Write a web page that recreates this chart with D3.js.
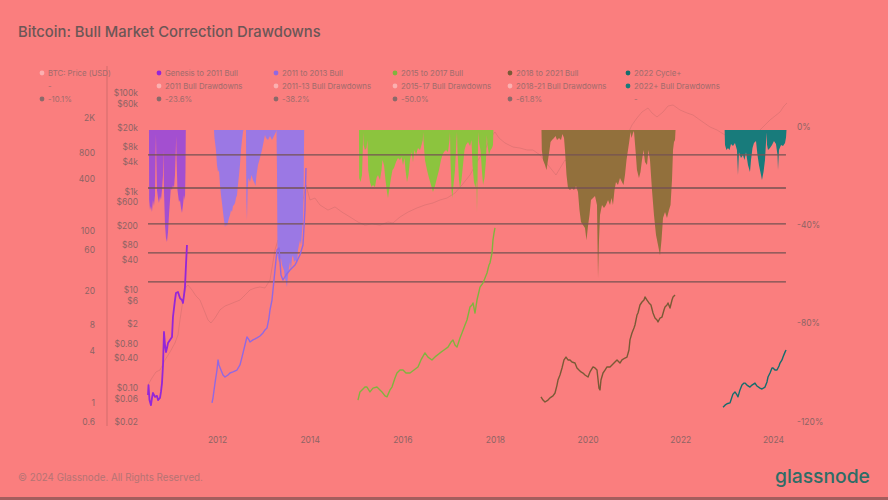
<!DOCTYPE html>
<html><head><meta charset="utf-8">
<script src="https://cdn.jsdelivr.net/npm/d3@7"></script>
<style>
html,body{margin:0;padding:0;background:#fa7e7e;}
svg{display:block;font-family:Inter,"Open Sans",sans-serif;}
</style></head><body>
<svg id="chart" width="888" height="500"></svg>
<script>
// ---------------- DATA ----------------
const title = "Bitcoin: Bull Market Correction Drawdowns";
const yearTicks = [2012, 2014, 2016, 2018, 2020, 2022, 2024];
const leftTicks = [0.6, 1, 4, 8, 20, 60, 100, 400, 800, 2000];
const leftTickLabels = ["0.6", "1", "4", "8", "20", "60", "100", "400", "800", "2K"];
const priceTicks = [0.02, 0.06, 0.1, 0.4, 0.8, 2, 6, 10, 40, 80, 200, 600, 1000, 4000, 8000, 20000, 60000, 100000];
const priceTickLabels = ["$0.02","$0.06","$0.10","$0.40","$0.80","$2","$6","$10","$40","$80","$200","$600","$1k","$4k","$8k","$20k","$60k","$100k"];
const ddTicks = [0, -40, -80, -120];
const levels = [-10.1, -23.6, -38.2, -50.0, -61.8];

// BTC price (left axis), [decimal year, value]
const btcPrice = [[2010.511,1.62],[2010.597,1.95],[2010.683,2.29],[2010.770,2.41],[2010.878,3.15],[2010.986,3.90],[2011.093,4.96],[2011.158,6.14],[2011.201,9.16],[2011.266,15.6],[2011.331,22.1],[2011.374,23.3],[2011.460,20.4],[2011.547,17.4],[2011.633,15.6],[2011.719,12.0],[2011.806,9.16],[2011.870,8.45],[2011.957,9.66],[2012.065,12.0],[2012.173,13.3],[2012.281,14.0],[2012.389,14.8],[2012.496,15.6],[2012.604,17.8],[2012.712,20.4],[2012.820,21.5],[2012.928,22.1],[2013.036,21.5],[2013.144,26.6],[2013.252,59.3],[2013.317,77.4],[2013.403,51.9],[2013.576,59.3],[2013.748,88.4],[2013.856,225],[2013.921,336],[2014.007,225],[2014.115,237],[2014.223,197],[2014.396,172],[2014.547,187],[2014.698,163],[2014.871,143],[2015.043,125],[2015.194,115],[2015.346,119],[2015.518,115],[2015.691,125],[2015.799,122],[2015.950,143],[2016.123,163],[2016.317,182],[2016.489,197],[2016.662,208],[2016.813,225],[2016.964,237],[2017.137,271],[2017.288,336],[2017.461,439],[2017.634,654],[2017.785,854],[2017.892,1177],[2018.000,1381],[2018.087,1177],[2018.216,1030],[2018.389,925],[2018.540,901],[2018.691,854],[2018.820,854],[2018.972,748],[2019.144,573],[2019.317,439],[2019.511,654],[2019.727,529],[2019.943,573],[2020.094,620],[2020.245,384],[2020.375,654],[2020.590,810],[2020.806,1116],[2020.957,1665],[2021.065,2006],[2021.173,2355],[2021.303,2620],[2021.389,2293],[2021.497,2061],[2021.627,2355],[2021.735,2764],[2021.843,2839],[2021.994,2484],[2022.145,2293],[2022.274,2174],[2022.425,1902],[2022.641,1579],[2022.792,1457],[2022.965,1275],[2023.180,1116],[2023.396,1177],[2023.612,1275],[2023.763,1537],[2023.936,1902],[2024.044,2117],[2024.152,2355],[2024.238,2764],[2024.303,2994]];

// Cycle prices ($ axis), [decimal year, value]
const genesisTo2011 = [[2010.511,0.071],[2010.522,0.113],[2010.543,0.056],[2010.575,0.044],[2010.597,0.062],[2010.618,0.078],[2010.662,0.065],[2010.705,0.068],[2010.727,0.056],[2010.770,0.062],[2010.791,0.082],[2010.813,0.124],[2010.835,0.29],[2010.856,1.36],[2010.878,0.74],[2010.899,0.53],[2010.921,0.64],[2010.943,0.81],[2010.986,0.94],[2011.029,1.08],[2011.050,2.75],[2011.093,6.1],[2011.115,8.48],[2011.158,8.9],[2011.201,6.7],[2011.245,6.1],[2011.266,5.31],[2011.288,7.7],[2011.309,11.2],[2011.331,31.5],[2011.352,80.5]];
const bull2011to2013 = [[2011.892,0.049],[2011.914,0.062],[2011.957,0.124],[2012.000,0.229],[2012.022,0.367],[2012.043,0.29],[2012.086,0.229],[2012.130,0.181],[2012.173,0.165],[2012.238,0.181],[2012.281,0.199],[2012.345,0.209],[2012.432,0.229],[2012.496,0.29],[2012.540,0.42],[2012.604,0.74],[2012.647,1.08],[2012.691,0.94],[2012.712,0.85],[2012.777,0.94],[2012.863,1.03],[2012.928,1.13],[2012.993,1.30],[2013.036,1.50],[2013.079,1.64],[2013.122,2.62],[2013.144,3.82],[2013.187,6.1],[2013.209,9.8],[2013.252,24.9],[2013.295,63.7],[2013.338,70],[2013.381,19.7],[2013.424,15.6],[2013.489,19.7],[2013.576,24.9],[2013.684,31.5],[2013.791,50.4],[2013.856,80.5],[2013.899,416],[2013.921,2980]];
const bull2015to2017 = [[2015.043,0.056],[2015.086,0.082],[2015.130,0.090],[2015.194,0.103],[2015.237,0.103],[2015.302,0.082],[2015.367,0.098],[2015.453,0.103],[2015.518,0.090],[2015.561,0.082],[2015.626,0.068],[2015.669,0.065],[2015.734,0.090],[2015.777,0.103],[2015.842,0.157],[2015.885,0.199],[2015.950,0.229],[2016.015,0.229],[2016.080,0.199],[2016.166,0.199],[2016.252,0.229],[2016.338,0.264],[2016.403,0.367],[2016.489,0.51],[2016.554,0.42],[2016.640,0.367],[2016.727,0.44],[2016.813,0.51],[2016.900,0.585],[2016.986,0.67],[2017.051,0.85],[2017.094,0.94],[2017.137,0.74],[2017.180,0.67],[2017.245,1.03],[2017.288,1.30],[2017.353,1.89],[2017.396,2.39],[2017.461,4.40],[2017.504,4.83],[2017.526,5.31],[2017.569,3.32],[2017.612,6.1],[2017.677,11.2],[2017.742,13.6],[2017.785,17.1],[2017.828,21.7],[2017.871,31.5],[2017.892,34.6],[2017.936,55.3],[2017.957,102],[2017.979,141],[2018.000,179]];
const bull2018to2021 = [[2018.993,0.065],[2019.037,0.056],[2019.080,0.051],[2019.144,0.056],[2019.188,0.062],[2019.252,0.068],[2019.296,0.078],[2019.339,0.113],[2019.360,0.143],[2019.403,0.181],[2019.447,0.252],[2019.490,0.367],[2019.533,0.42],[2019.576,0.367],[2019.619,0.367],[2019.662,0.333],[2019.727,0.318],[2019.770,0.252],[2019.813,0.229],[2019.857,0.209],[2019.900,0.199],[2019.943,0.181],[2020.008,0.165],[2020.051,0.209],[2020.116,0.264],[2020.159,0.252],[2020.202,0.229],[2020.245,0.098],[2020.267,0.090],[2020.288,0.143],[2020.332,0.199],[2020.375,0.229],[2020.418,0.264],[2020.483,0.264],[2020.526,0.29],[2020.590,0.333],[2020.634,0.367],[2020.698,0.318],[2020.741,0.367],[2020.806,0.402],[2020.849,0.42],[2020.892,0.585],[2020.914,0.94],[2020.957,1.30],[2021.000,1.64],[2021.022,1.89],[2021.065,3.02],[2021.087,3.32],[2021.130,4.83],[2021.173,5.56],[2021.216,6.1],[2021.238,7.03],[2021.281,6.1],[2021.324,5.31],[2021.367,4.83],[2021.411,3.32],[2021.454,2.62],[2021.497,2.39],[2021.519,2.18],[2021.562,2.62],[2021.605,2.75],[2021.648,3.82],[2021.670,4.40],[2021.713,4.83],[2021.735,5.31],[2021.778,4.20],[2021.821,6.1],[2021.843,7.03],[2021.886,7.7]];
const cycle2022 = [[2022.922,0.040],[2022.965,0.044],[2023.008,0.047],[2023.073,0.049],[2023.094,0.056],[2023.116,0.065],[2023.137,0.074],[2023.180,0.082],[2023.224,0.071],[2023.245,0.065],[2023.288,0.090],[2023.331,0.113],[2023.375,0.124],[2023.396,0.124],[2023.439,0.113],[2023.504,0.103],[2023.547,0.113],[2023.612,0.124],[2023.655,0.108],[2023.720,0.098],[2023.763,0.094],[2023.828,0.103],[2023.871,0.131],[2023.893,0.165],[2023.936,0.199],[2023.979,0.252],[2024.001,0.252],[2024.044,0.229],[2024.087,0.229],[2024.130,0.277],[2024.152,0.318],[2024.195,0.367],[2024.217,0.42],[2024.260,0.53],[2024.282,0.585]];

// Drawdowns (%), [decimal year, drawdown]
const dd2011 = [[2010.532,0],[2010.536,-28.5],[2010.554,-32.5],[2010.575,-30.9],[2010.597,-33.4],[2010.618,-28.5],[2010.640,-30.9],[2010.662,-26.4],[2010.675,-8.1],[2010.683,-1.6],[2010.692,-12.2],[2010.705,-24.4],[2010.727,-27.7],[2010.748,-29.7],[2010.770,-26.8],[2010.791,-28.5],[2010.813,-24.4],[2010.835,-18.3],[2010.845,-8.1],[2010.856,-24.4],[2010.878,-38.6],[2010.899,-43.9],[2010.921,-45.6],[2010.943,-41.5],[2010.964,-34.6],[2010.986,-28.5],[2011.003,-23.6],[2011.029,-24.4],[2011.050,-22.4],[2011.072,-23.6],[2011.093,-18.3],[2011.111,-8.1],[2011.119,-2.4],[2011.128,-12.2],[2011.147,-24.4],[2011.180,-29.3],[2011.201,-28.5],[2011.223,-31.7],[2011.245,-33.8],[2011.266,-30.5],[2011.288,-26.4],[2011.309,-28.5],[2011.320,-16.3],[2011.327,0]];
const dd2011to13 = [[2011.935,0],[2011.946,-3.3],[2011.978,-8.1],[2012.000,-14.2],[2012.022,-17.1],[2012.043,-16.3],[2012.065,-22.4],[2012.086,-26.4],[2012.108,-29.7],[2012.130,-33.4],[2012.151,-36.6],[2012.173,-39.5],[2012.194,-38.2],[2012.216,-39.1],[2012.238,-37.4],[2012.259,-35.8],[2012.281,-34.6],[2012.302,-32.5],[2012.324,-33.4],[2012.345,-30.9],[2012.367,-30.5],[2012.389,-29.7],[2012.410,-27.7],[2012.432,-26.4],[2012.453,-22.4],[2012.475,-18.3],[2012.496,-14.2],[2012.518,-8.1],[2012.540,-4.1],[2012.561,-0.8],[2012.572,0],[2012.626,0],[2012.633,-28.5],[2012.647,-36.6],[2012.662,-24.4],[2012.680,-19.5],[2012.712,-21.2],[2012.745,-18.3],[2012.777,-20.3],[2012.809,-21.6],[2012.831,-22.8],[2012.853,-18.3],[2012.885,-14.2],[2012.928,-11.4],[2012.971,-8.1],[2013.014,-4.1],[2013.036,-2.0],[2013.058,-3.3],[2013.101,-4.1],[2013.144,-2.4],[2013.187,-4.1],[2013.230,-2.4],[2013.273,-0.8],[2013.284,0],[2013.295,-16.3],[2013.306,-50.9],[2013.338,-53.7],[2013.381,-52.1],[2013.403,-54.9],[2013.446,-57.0],[2013.468,-60.2],[2013.489,-61.8],[2013.511,-63.9],[2013.533,-59.0],[2013.554,-56.1],[2013.576,-53.7],[2013.597,-57.0],[2013.619,-52.1],[2013.641,-50.9],[2013.662,-53.7],[2013.705,-52.9],[2013.727,-54.9],[2013.748,-48.8],[2013.770,-46.8],[2013.791,-44.8],[2013.813,-46.8],[2013.834,-41.5],[2013.856,-36.6],[2013.871,-20.3],[2013.882,0]];
const dd2015to17 = [[2015.065,0],[2015.069,-19.5],[2015.097,-21.2],[2015.130,-18.3],[2015.147,-8.1],[2015.156,-0.8],[2015.164,-6.1],[2015.194,-8.1],[2015.227,-7.3],[2015.248,-4.1],[2015.264,-16.3],[2015.302,-21.2],[2015.335,-23.2],[2015.367,-22.4],[2015.410,-23.2],[2015.443,-19.5],[2015.475,-18.3],[2015.518,-20.3],[2015.551,-16.3],[2015.572,-12.2],[2015.605,-14.2],[2015.637,-20.3],[2015.669,-25.2],[2015.691,-27.7],[2015.723,-23.6],[2015.756,-19.5],[2015.788,-16.3],[2015.820,-15.5],[2015.864,-13.0],[2015.907,-11.4],[2015.950,-12.2],[2015.982,-11.0],[2016.015,-14.2],[2016.047,-11.4],[2016.069,-16.3],[2016.101,-21.2],[2016.133,-18.3],[2016.166,-12.2],[2016.198,-8.9],[2016.231,-13.0],[2016.263,-8.1],[2016.296,-10.2],[2016.338,-7.3],[2016.382,-8.1],[2016.414,-6.1],[2016.442,-4.1],[2016.451,-0.8],[2016.459,-4.9],[2016.489,-12.2],[2016.533,-16.3],[2016.576,-19.5],[2016.619,-22.4],[2016.662,-25.2],[2016.705,-22.8],[2016.748,-19.5],[2016.792,-16.3],[2016.835,-12.2],[2016.867,-10.2],[2016.900,-8.9],[2016.943,-8.1],[2016.986,-8.9],[2017.018,-4.1],[2017.029,-0.8],[2017.040,-12.2],[2017.062,-24.4],[2017.079,-27.7],[2017.105,-22.4],[2017.137,-16.3],[2017.169,-4.1],[2017.180,-0.8],[2017.191,-8.1],[2017.223,-20.3],[2017.245,-23.6],[2017.277,-20.3],[2017.310,-14.2],[2017.342,-8.1],[2017.374,-6.1],[2017.418,-4.9],[2017.461,-6.5],[2017.493,-4.1],[2017.515,-14.2],[2017.547,-21.2],[2017.580,-23.6],[2017.601,-20.3],[2017.612,-33.4],[2017.623,-20.3],[2017.634,-6.1],[2017.642,-0.8],[2017.655,-4.9],[2017.688,-8.1],[2017.720,-17.1],[2017.742,-22.4],[2017.774,-19.5],[2017.806,-12.2],[2017.824,-2.0],[2017.839,-6.1],[2017.871,-10.2],[2017.903,-8.1],[2017.936,-7.3],[2017.957,-6.1],[2017.966,0]];
const dd2018to21 = [[2019.004,0],[2019.011,-8.1],[2019.037,-12.2],[2019.080,-14.2],[2019.112,-16.3],[2019.144,-12.2],[2019.177,-8.1],[2019.199,-4.9],[2019.231,-4.1],[2019.274,-3.3],[2019.307,-2.4],[2019.339,-4.1],[2019.382,-3.3],[2019.425,-4.1],[2019.457,-1.6],[2019.490,-3.3],[2019.511,-8.1],[2019.544,-18.3],[2019.576,-23.6],[2019.619,-24.4],[2019.662,-23.6],[2019.706,-24.4],[2019.749,-22.8],[2019.792,-25.2],[2019.824,-32.5],[2019.857,-37.4],[2019.900,-38.6],[2019.943,-39.9],[2019.975,-44.8],[2020.008,-39.1],[2020.040,-34.6],[2020.072,-28.5],[2020.116,-27.7],[2020.159,-26.8],[2020.202,-30.5],[2020.224,-60.2],[2020.245,-44.8],[2020.267,-34.6],[2020.310,-30.5],[2020.353,-31.7],[2020.396,-30.5],[2020.440,-28.5],[2020.483,-30.5],[2020.515,-27.7],[2020.547,-30.5],[2020.580,-24.4],[2020.612,-21.2],[2020.655,-22.4],[2020.698,-19.5],[2020.741,-21.2],[2020.774,-22.4],[2020.806,-18.3],[2020.839,-12.2],[2020.871,-8.1],[2020.903,-4.1],[2020.925,-0.8],[2020.946,-3.3],[2020.979,-1.2],[2021.000,-0.4],[2021.033,-8.1],[2021.065,-16.3],[2021.108,-19.5],[2021.141,-17.1],[2021.173,-12.2],[2021.206,-8.1],[2021.238,-13.0],[2021.281,-14.2],[2021.314,-8.1],[2021.346,-12.2],[2021.389,-24.4],[2021.432,-34.6],[2021.476,-42.7],[2021.519,-46.8],[2021.562,-50.9],[2021.594,-44.8],[2021.627,-35.8],[2021.670,-33.4],[2021.713,-35.8],[2021.756,-32.5],[2021.789,-30.5],[2021.821,-20.3],[2021.843,-8.1],[2021.864,-4.9],[2021.886,-4.1],[2021.897,0]];
const dd2022 = [[2022.957,0],[2022.965,-6.1],[2022.997,-8.1],[2023.029,-7.3],[2023.062,-8.1],[2023.094,-5.7],[2023.137,-6.5],[2023.180,-5.3],[2023.223,-8.1],[2023.245,-18.3],[2023.266,-9.0],[2023.310,-11.4],[2023.353,-10.2],[2023.385,-12.2],[2023.418,-9.0],[2023.461,-14.2],[2023.504,-17.1],[2023.526,-12.2],[2023.558,-7.3],[2023.590,-5.3],[2023.634,-4.5],[2023.666,-10.2],[2023.698,-14.2],[2023.742,-18.3],[2023.763,-20.3],[2023.796,-17.1],[2023.828,-12.2],[2023.850,-5.0],[2023.861,-1.0],[2023.872,-6.0],[2023.893,-8.1],[2023.936,-7.3],[2023.979,-6.1],[2024.022,-4.5],[2024.065,-5.7],[2024.098,-10.2],[2024.109,-16.3],[2024.130,-8.1],[2024.174,-6.1],[2024.217,-6.5],[2024.260,-5.3],[2024.282,-3.0],[2024.292,0]];

// Legend labels (column by column)
const legendCols = [
  ["BTC: Price (USD)", "-", "-10.1%"],
  ["Genesis to 2011 Bull", "2011 Bull Drawdowns", "-23.6%"],
  ["2011 to 2013 Bull", "2011-13 Bull Drawdowns", "-38.2%"],
  ["2015 to 2017 Bull", "2015-17 Bull Drawdowns", "-50.0%"],
  ["2018 to 2021 Bull", "2018-21 Bull Drawdowns", "-61.8%"],
  ["2022 Cycle+", "2022+ Bull Drawdowns", "-"]
];
const footerText = "\u00A9 2024 Glassnode. All Rights Reserved.";
const logoText = "glassnode";

// ---------------- STYLE ----------------
const C = {
  bg: "#fa7e7e", title: "#6c5656", tick: "#8e6464", legend: "#a06c6c", footer: "#b57474",
  faint: "rgba(150,85,85,0.22)", level: "#745252", logo: "#2e6d66", levelDot: "#8a6a6a", faintDot: "#fbb0b0",
  cyc: ["#a34fd0", "#9b78e4", "#8cc43e", "#92703c", "#187b7b"],
  cycLine: ["#9426d8", "#9168e2", "#80b43e", "#7a5a36", "#146d6d"]
};

const svg = d3.select("#chart");
svg.append("rect").attr("width", 888).attr("height", 500).attr("fill", C.bg);
svg.append("rect").attr("x", 0).attr("y", 497).attr("width", 888).attr("height", 3).attr("fill", "#a45e5e");

function fitWidth(sel, target) {
  const w = sel.node().getComputedTextLength();
  const fs = parseFloat(sel.attr("font-size"));
  sel.attr("font-size", fs * target / w);
}

// Title
const t = svg.append("text").attr("x", 18).attr("y", 37).attr("font-size", 15).attr("font-weight", 500)
  .attr("fill", C.title).text(title);
fitWidth(t, 303);

// Scales
const x = d3.scaleLinear().domain([2010.511, 2024.303]).range([148, 787]);
const yLeft = d3.scaleLog().domain([1, 2000]).range([403, 403 - 86.3 * Math.log10(2000)]);
const yPrice = d3.scaleLog().domain([0.02, 100000]).range([422, 422 - 49.1 * Math.log10(5e6)]);
const yDD = d3.scaleLinear().domain([0, -120]).range([130, 425]);

// separator line
svg.append("line").attr("x1", 107).attr("x2", 107).attr("y1", 66).attr("y2", 426)
  .attr("stroke", "rgba(120,70,70,0.3)").attr("stroke-width", 1);

// faint BTC price
svg.append("path").datum(btcPrice)
  .attr("d", d3.line().x(d => x(d[0])).y(d => yLeft(d[1])))
  .attr("fill", "none").attr("stroke", C.faint).attr("stroke-width", 1);

// Drawdown areas
const ddSets = [dd2011, dd2011to13, dd2015to17, dd2018to21, dd2022];
const area = d3.area().x(d => x(d[0])).y0(yDD(0)).y1(d => yDD(d[1]));
ddSets.forEach((s, i) => {
  svg.append("path").datum(s).attr("d", area).attr("fill", C.cyc[i]);
});

// Level lines
svg.selectAll("line.level").data(levels).join("line").attr("class", "level")
  .attr("x1", x(2010.511)).attr("x2", x(2024.28))
  .attr("y1", d => yDD(d)).attr("y2", d => yDD(d))
  .attr("stroke", C.level).attr("stroke-width", 1.3);

// Cycle price lines
const priceSets = [genesisTo2011, bull2011to2013, bull2015to2017, bull2018to2021, cycle2022];
const pl = d3.line().x(d => x(d[0])).y(d => yPrice(d[1]));
priceSets.forEach((s, i) => {
  svg.append("path").datum(s).attr("d", pl).attr("fill", "none")
    .attr("stroke", C.cycLine[i]).attr("stroke-width", i === 0 ? 1.8 : 1.4).attr("stroke-linejoin", "round");
});

// Axes
function styleAxis(g) {
  g.select(".domain").remove();
  g.selectAll(".tick line").remove();
  g.selectAll(".tick text").attr("fill", C.tick).attr("font-size", 8.5)
    .attr("font-family", "Inter, 'Open Sans', sans-serif");
}
svg.append("g").attr("transform", "translate(95,0)")
  .call(d3.axisLeft(yLeft).tickValues(leftTicks).tickFormat((d, i) => leftTickLabels[i]).tickSize(0).tickPadding(0))
  .call(styleAxis);
svg.append("g").attr("transform", "translate(138,0)")
  .call(d3.axisLeft(yPrice).tickValues(priceTicks).tickFormat((d, i) => priceTickLabels[i]).tickSize(0).tickPadding(0))
  .call(styleAxis);
svg.append("g").attr("transform", "translate(797,-3.5)")
  .call(d3.axisRight(yDD).tickValues(ddTicks).tickFormat(d => d + "%").tickSize(0).tickPadding(0))
  .call(styleAxis);
svg.append("g").attr("transform", "translate(0,437)")
  .call(d3.axisBottom(x).tickValues(yearTicks).tickFormat(d3.format("d")).tickSize(0).tickPadding(0))
  .call(styleAxis);

// Legend
const colX = [42, 159, 276, 395, 510, 628];
const rowY = [73, 86, 99];
const dotColors = [
  [C.faintDot, null, C.levelDot],
  [C.cycLine[0], C.faintDot, C.levelDot],
  [C.cycLine[1], C.faintDot, C.levelDot],
  [C.cycLine[2], C.faintDot, C.levelDot],
  [C.cycLine[3], C.faintDot, C.levelDot],
  [C.cycLine[4], C.cyc[4], null]
];
const leg = svg.append("g");
let legendFont = 7.5;
legendCols.forEach((col, ci) => {
  col.forEach((label, ri) => {
    const dc = dotColors[ci][ri];
    if (dc) leg.append("circle").attr("cx", colX[ci]).attr("cy", rowY[ri]).attr("r", 2.4).attr("fill", dc);
    leg.append("text").attr("class", "lt").attr("x", colX[ci] + 6).attr("y", rowY[ri]).attr("dy", "0.35em")
      .attr("font-size", legendFont).attr("fill", C.legend).text(label);
  });
});
const ref = leg.selectAll("text.lt").filter(function () { return this.textContent === "Genesis to 2011 Bull"; });
const rw = ref.node().getComputedTextLength();
leg.selectAll("text.lt").attr("font-size", legendFont * 73 / rw);

// Footer
const f = svg.append("text").attr("x", 18).attr("y", 481).attr("font-size", 9.5).attr("fill", C.footer).text(footerText);
fitWidth(f, 185);
const lg = svg.append("text").attr("x", 775).attr("y", 483).attr("font-size", 20).attr("font-weight", 500)
  .attr("fill", C.logo).text(logoText);
fitWidth(lg, 95);
</script>
</body></html>
